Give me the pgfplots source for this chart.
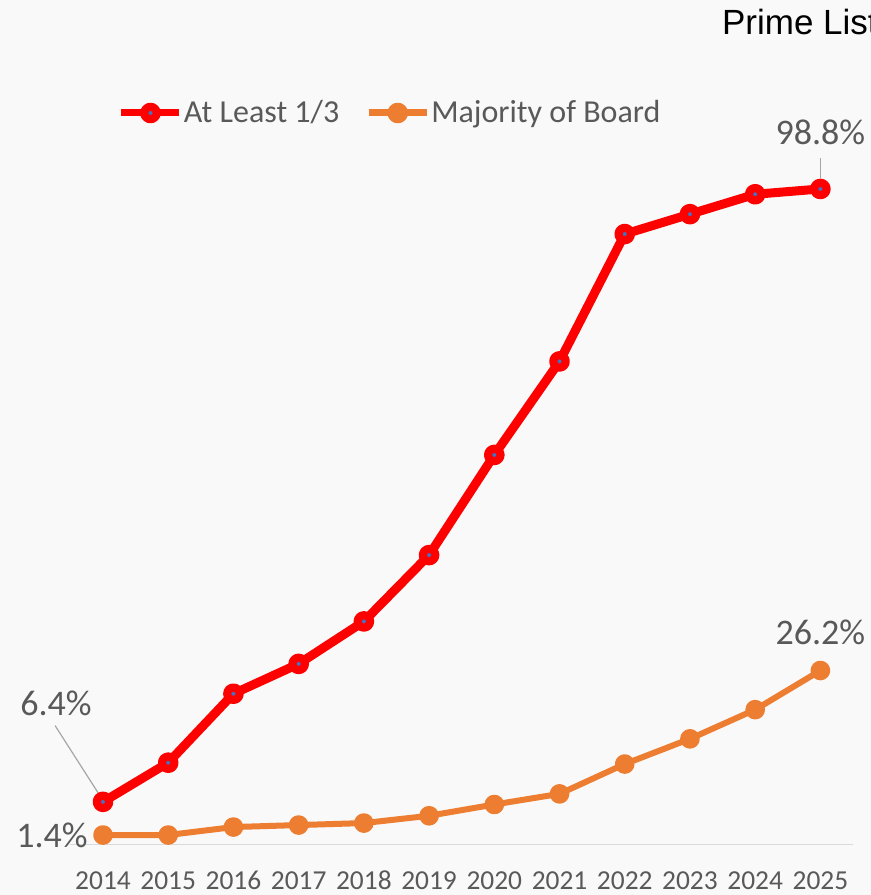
\documentclass[border=0pt]{standalone}
\usepackage{pgfplots}
\pgfplotsset{compat=1.18}
\usepackage{fontspec}
\setmainfont{Carlito}
\newfontfamily\arialfont{Liberation Sans}

\definecolor{bgcol}{HTML}{F9F9F9}
\definecolor{txtgray}{HTML}{595959}
\definecolor{axgray}{HTML}{D9D9D9}
\definecolor{leadgray}{HTML}{A6A6A6}
\definecolor{redline}{HTML}{FF0000}
\definecolor{dotblue}{HTML}{4472C4}
\definecolor{orangeline}{HTML}{ED7D31}

% values (percent)
\pgfplotstableread{
year atleast majority
2014 6.4  1.4
2015 12.3 1.4
2016 22.7 2.6
2017 27.2 2.9
2018 33.6 3.2
2019 43.6 4.3
2020 58.7 6.0
2021 72.8 7.6
2022 92.0 12.1
2023 95.0 15.9
2024 98.0 20.3
2025 98.8 26.2
}\boardtable

\begin{document}
\begin{tikzpicture}
% 1px = 0.5pt, page 871x895 px
\path[use as bounding box, clip] (0,0) rectangle (435.5pt,447.5pt);
\fill[bgcol] (0,0) rectangle (435.5pt,447.5pt);

% title runs off the right edge, as in the reference
\node[anchor=base west, inner sep=0pt, font=\arialfont\fontsize{17.5}{20}\selectfont, text=black]
  at (360.85pt,430pt) {Prime List};

\begin{axis}[
    at={(35.2pt,25.35pt)},
    anchor=south west,
    scale only axis,
    width=391.3pt,
    height=331.65pt,
    xmin=2013.5, xmax=2025.5,
    ymin=0, ymax=100,
    clip=false,
    axis x line=bottom,
    axis y line=none,
    x axis line style={draw=axgray, line width=0.75pt, -},
    xtick={2014,2015,2016,2017,2018,2019,2020,2021,2022,2023,2024,2025},
    xticklabels={2014,2015,2016,2017,2018,2019,2020,2021,2022,2023,2024,2025},
    major tick length=0pt,
    xticklabel style={anchor=base, yshift=-22.5pt, text=txtgray,
      font=\fontsize{13.7}{16}\selectfont},
    legend columns=2,
    legend style={
      at={(0,1)}, anchor=west, xshift=23.6pt, yshift=34pt,
      draw=none, fill=none,
      font=\fontsize{16}{19}\selectfont, text=txtgray,
      nodes={inner sep=0.5pt},
      /tikz/every even column/.append style={column sep=12.5pt},
      inner sep=0pt
    },
    legend image code/.code={
      \draw[mark repeat=2, mark phase=2, line width=3.5pt]
        plot coordinates {(0pt,0pt) (14.5pt,0pt) (29pt,0pt)};
    },
    legend cell align=left,
]
\addplot[redline, line width=4.5pt, line join=round,
  mark=*, mark size=3.1pt,
  mark options={draw=redline, fill=dotblue, line width=4.1pt}]
  table[x=year, y=atleast] {\boardtable};
\addlegendentry{At Least 1/3}

\addplot[orangeline, line width=3pt, line join=round,
  mark=*, mark size=3.4pt,
  mark options={draw=none, fill=orangeline}]
  table[x=year, y=majority] {\boardtable};
\addlegendentry{Majority of Board}

% data labels with leader lines
\draw[leadgray, line width=0.6pt] (axis cs:2013.265,17.9) -- (axis cs:2014,6.6);
\draw[leadgray, line width=0.6pt] (axis cs:2025,103.4) -- (axis cs:2025,100.4);
\node[text=txtgray, font=\fontsize{18}{21}\selectfont] at (axis cs:2013.28,21.3) {6.4\%};
\node[text=txtgray, font=\fontsize{18}{21}\selectfont, anchor=east, inner sep=0pt] at (axis cs:2013.77,1.4) {1.4\%};
\node[text=txtgray, font=\fontsize{18}{21}\selectfont] at (axis cs:2025,107.3) {98.8\%};
\node[text=txtgray, font=\fontsize{18}{21}\selectfont] at (axis cs:2025,32.0) {26.2\%};
\end{axis}
\end{tikzpicture}
\end{document}
